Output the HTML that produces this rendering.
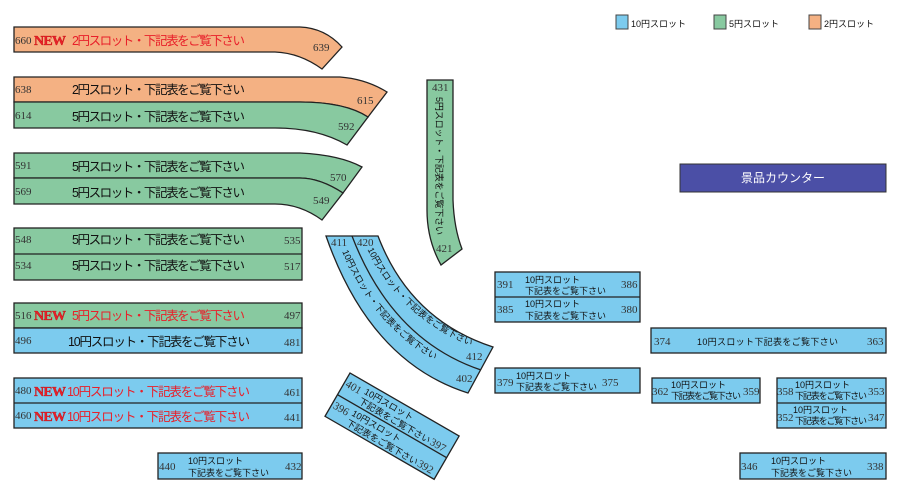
<!DOCTYPE html>
<html><head><meta charset="utf-8"><style>
html,body{margin:0;padding:0;background:#fff;}
svg{display:block}
.n{font-family:"Liberation Serif",serif;font-size:11px;fill:#333}
.j{font-family:"Liberation Sans","Noto Sans CJK JP",sans-serif;font-size:12.5px;fill:#111}
.s{font-family:"Liberation Sans","Noto Sans CJK JP",sans-serif;font-size:9px;fill:#111}
.r{fill:#e8202a}
.new{font-family:"Liberation Serif",serif;font-weight:bold;font-size:14px;fill:#e8202a;stroke:#b00;stroke-width:0.3}
.b{fill:#7ccbee;stroke:#222;stroke-width:1.3}
.g{fill:#88c9a0;stroke:#222;stroke-width:1.3}
.o{fill:#f4b183;stroke:#222;stroke-width:1.3}
line,.l{stroke:#222;stroke-width:1.3;fill:none}
</style></head><body>
<svg width="900" height="504" viewBox="0 0 900 504" xmlns="http://www.w3.org/2000/svg">
<defs>
<path id="p1" d="M364,242 Q398,320 482,350"/>
<path id="p2" d="M339,244 Q378,343 470,376"/>
</defs>
<!-- legend -->
<rect x="616" y="15" width="12" height="14" fill="#7ccbee" stroke="#444"/>
<text x="631" y="27" class="s" font-size="11">10円スロット</text>
<rect x="714" y="15" width="12" height="14" fill="#88c9a0" stroke="#444"/>
<text x="729" y="27" class="s" font-size="11">5円スロット</text>
<rect x="809" y="15" width="12" height="14" fill="#f4b183" stroke="#444"/>
<text x="824" y="27" class="s" font-size="11">2円スロット</text>

<!-- shape 1 -->
<path class="o" d="M14,27 L300,27 Q325,28 342,47 L322,69 Q300,53 275,52 L14,52 Z"/>
<text x="15" y="44" class="n">660</text>
<text x="34" y="45" class="new" textLength="32">NEW</text>
<text x="72" y="45" class="j r" textLength="173">2円スロット・下記表をご覧下さい</text>
<text x="313" y="51" class="n">639</text>

<!-- shape 2 -->
<path class="o" d="M14,77 L340,77 Q366,79 387,92 L368,117 Q345,102 300,102 L14,102 Z"/>
<path class="g" d="M14,102 L300,102 Q345,102 368,117 L347,145 Q318,128 275,128 L14,128 Z"/>
<text x="15" y="93" class="n">638</text>
<text x="72" y="94" class="j" textLength="173">2円スロット・下記表をご覧下さい</text>
<text x="357" y="104" class="n">615</text>
<text x="15" y="119" class="n">614</text>
<text x="72" y="121" class="j" textLength="173">5円スロット・下記表をご覧下さい</text>
<text x="338" y="130" class="n">592</text>

<!-- shape 3 -->
<path class="g" d="M14,153 L300,153 Q340,155 362,167 L343,193 Q320,178 300,178 L14,178 Z"/>
<path class="g" d="M14,178 L300,178 Q320,178 343,193 L322,220 Q300,204 275,204 L14,204 Z"/>
<text x="15" y="169" class="n">591</text>
<text x="72" y="171" class="j" textLength="173">5円スロット・下記表をご覧下さい</text>
<text x="330" y="181" class="n">570</text>
<text x="15" y="195" class="n">569</text>
<text x="72" y="197" class="j" textLength="173">5円スロット・下記表をご覧下さい</text>
<text x="313" y="204" class="n">549</text>

<!-- vertical green -->
<path class="g" d="M427,80 L453,80 L453,200 Q454,228 462,249 L441,265 Q427,240 427,210 Z"/>
<text x="432" y="91" class="n">431</text>
<text x="436" y="252" class="n">421</text>
<text transform="translate(436,97) rotate(90)" class="s" font-size="8.5" textLength="138">5円スロット・下記表をご覧下さい</text>

<!-- left rects -->
<rect x="14" y="228" width="288" height="52" class="g"/><line x1="14" y1="254" x2="302" y2="254"/>
<text x="15" y="243" class="n">548</text><text x="72" y="244" class="j" textLength="173">5円スロット・下記表をご覧下さい</text><text x="284" y="244" class="n">535</text>
<text x="15" y="269" class="n">534</text><text x="72" y="270" class="j" textLength="173">5円スロット・下記表をご覧下さい</text><text x="284" y="270" class="n">517</text>

<rect x="14" y="303" width="288" height="25" class="g"/><rect x="14" y="328" width="288" height="25" class="b"/>
<text x="15" y="319" class="n">516</text><text x="34" y="320" class="new" textLength="32">NEW</text><text x="72" y="320" class="j r" textLength="173">5円スロット・下記表をご覧下さい</text><text x="284" y="319" class="n">497</text>
<text x="15" y="344" class="n">496</text><text x="68" y="346" class="j" textLength="182">10円スロット・下記表をご覧下さい</text><text x="284" y="346" class="n">481</text>

<rect x="14" y="378" width="288" height="50" class="b"/><line x1="14" y1="403" x2="302" y2="403"/>
<text x="15" y="394" class="n">480</text><text x="34" y="396" class="new" textLength="32">NEW</text><text x="67" y="396" class="j r" textLength="183">10円スロット・下記表をご覧下さい</text><text x="284" y="396" class="n">461</text>
<text x="15" y="419" class="n">460</text><text x="34" y="421" class="new" textLength="32">NEW</text><text x="67" y="421" class="j r" textLength="183">10円スロット・下記表をご覧下さい</text><text x="284" y="421" class="n">441</text>

<rect x="158" y="453" width="144" height="26" class="b"/>
<text x="159" y="470" class="n">440</text><text x="188" y="464" class="s">10円スロット</text><text x="188" y="476" class="s">下記表をご覧下さい</text><text x="285" y="470" class="n">432</text>

<!-- arc band -->
<path class="b" d="M326,236 L378,236 Q410,320 493,347 L468,393 Q370,362 326,236 Z"/>
<path class="l" d="M352,236 Q392,340 481,370"/>
<text x="331" y="246" class="n">411</text><text x="357" y="246" class="n">420</text>
<text x="466" y="360" class="n">412</text><text x="456" y="382" class="n">402</text>
<text class="s" font-size="8.5"><textPath href="#p1" startOffset="8">10円スロット・下記表をご覧下さい</textPath></text>
<text class="s" font-size="8.5"><textPath href="#p2" startOffset="8">10円スロット・下記表をご覧下さい</textPath></text>

<!-- rotated box -->
<g transform="translate(350,373) rotate(30)">
<rect x="0" y="0" width="126" height="50" class="b"/>
<line x1="0" y1="25" x2="126" y2="25"/>
<text x="2" y="14" class="n">401</text><text x="22" y="11" class="s" font-size="8.5">10円スロット</text><text x="22" y="22" class="s" font-size="8.5">下記表をご覧下さい</text><text x="104" y="22" class="n">397</text>
<text x="2" y="39" class="n">396</text><text x="22" y="36" class="s" font-size="8.5">10円スロット</text><text x="22" y="47" class="s" font-size="8.5">下記表をご覧下さい</text><text x="104" y="47" class="n">392</text>
</g>

<!-- right boxes -->
<rect x="495" y="272" width="145" height="50" class="b"/><line x1="495" y1="297" x2="640" y2="297"/>
<text x="497" y="288" class="n">391</text><text x="525" y="283" class="s">10円スロット</text><text x="525" y="294" class="s">下記表をご覧下さい</text><text x="621" y="288" class="n">386</text>
<text x="497" y="313" class="n">385</text><text x="525" y="307" class="s">10円スロット</text><text x="525" y="319" class="s">下記表をご覧下さい</text><text x="621" y="313" class="n">380</text>

<rect x="495" y="368" width="145" height="25" class="b"/>
<text x="497" y="386" class="n">379</text><text x="516" y="379" class="s">10円スロット</text><text x="516" y="390" class="s">下記表をご覧下さい</text><text x="602" y="386" class="n">375</text>

<rect x="680" y="164" width="206" height="28" fill="#4b4fa6" stroke="#333"/>
<text x="783" y="182" text-anchor="middle" class="j" style="fill:#fff;font-size:12px">景品カウンター</text>

<rect x="651" y="328" width="235" height="25" class="b"/>
<text x="654" y="345" class="n">374</text><text x="697" y="345" class="s" textLength="141">10円スロット下記表をご覧下さい</text><text x="867" y="345" class="n">363</text>

<rect x="652" y="378" width="108" height="25" class="b"/>
<text x="652" y="395" class="n">362</text><text x="671" y="388" class="s" font-size="8.5">10円スロット</text><text x="671" y="399" class="s" font-size="8.5" textLength="70">下記表をご覧下さい</text><text x="743" y="395" class="n">359</text>

<rect x="777" y="378" width="109" height="50" class="b"/><line x1="777" y1="403" x2="886" y2="403"/>
<text x="777" y="395" class="n">358</text><text x="795" y="388" class="s" font-size="8.5">10円スロット</text><text x="795" y="399" class="s" font-size="8.5" textLength="72">下記表をご覧下さい</text><text x="868" y="395" class="n">353</text>
<text x="777" y="421" class="n">352</text><text x="793" y="413" class="s" font-size="8.5">10円スロット</text><text x="795" y="424" class="s" font-size="8.5" textLength="72">下記表をご覧下さい</text><text x="868" y="421" class="n">347</text>

<rect x="740" y="453" width="146" height="26" class="b"/>
<text x="741" y="470" class="n">346</text><text x="771" y="464" class="s">10円スロット</text><text x="771" y="476" class="s">下記表をご覧下さい</text><text x="867" y="470" class="n">338</text>
</svg>
</body></html>
